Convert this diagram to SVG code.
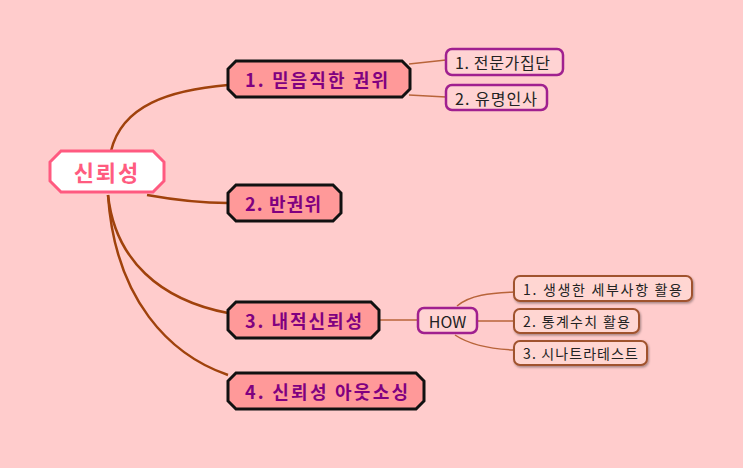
<svg xmlns="http://www.w3.org/2000/svg" width="743" height="468" viewBox="0 0 743 468">
<defs>
<style>
.main{fill:#ff9999;stroke:#111;stroke-width:3;stroke-linejoin:miter}
.mt{font-family:"Noto Sans CJK KR","Noto Sans",sans-serif;font-size:18px;font-weight:bold;fill:#800080;dominant-baseline:central}
.leafA{fill:#ffd3d3;stroke:#a0208f;stroke-width:2.5}
.leafB{fill:#ffd6d2;stroke:#a0522d;stroke-width:2}
.lt{font-family:"Noto Sans CJK KR","Noto Sans",sans-serif;font-size:16px;fill:#222;dominant-baseline:central}
.st{font-family:"Noto Sans CJK KR","Noto Sans",sans-serif;font-size:14px;fill:#222;dominant-baseline:central}
.e{fill:none;stroke:#a0420c;stroke-width:2.5}
.e2{fill:none;stroke:#b8643a;stroke-width:1.5}
</style>
<filter id="sh" x="-10%" y="-20%" width="130%" height="160%">
<feDropShadow dx="1" dy="1.5" stdDeviation="1" flood-color="#000" flood-opacity="0.35"/>
</filter>
</defs>
<rect width="743" height="468" fill="#ffcccc"/>
<g id="connectors">
<path class="e" d="M111,151 C122,105 170,90 228,85"/>
<path class="e" d="M147,195 C175,200 200,203 228,203"/>
<path class="e" d="M108,195 C115,260 160,300 228,313"/>
<path class="e" d="M108,195 C115,300 170,355 228,375"/>
<path class="e2" d="M409,64 L446,60"/>
<path class="e2" d="M409,95 L446,97"/>
<path class="e2" d="M379,320 L418,320"/>
<path class="e2" d="M457,306 C470,295 490,293 514,292"/>
<path class="e2" d="M477,321 L514,321"/>
<path class="e2" d="M455,335 C470,345 490,349 514,350"/>
</g>
<g id="root">
<polygon points="61,151 153,151 164,162 164,181 153,192 61,192 50,181 50,162" fill="#fff" stroke="#ff5a80" stroke-width="3"/>
<text x="107" y="171" text-anchor="middle" font-family="'Noto Sans CJK KR','Noto Sans',sans-serif" font-size="22" font-weight="bold" fill="#ff5c80" dominant-baseline="central" letter-spacing="2">신뢰성</text>
</g>
<g id="n1">
<polygon class="main" points="236,61 402,61 410,69 410,89 402,97 236,97 228,89 228,69"/>
<text class="mt" x="245" y="79" textLength="143" lengthAdjust="spacing">1. 믿음직한 권위</text>
</g>
<g id="n2">
<polygon class="main" points="236,185 333,185 341,193 341,213 333,221 236,221 228,213 228,193"/>
<text class="mt" x="245" y="203" textLength="76" lengthAdjust="spacing">2. 반권위</text>
</g>
<g id="n3">
<polygon class="main" points="236,302 371,302 379,310 379,330 371,338 236,338 228,330 228,310"/>
<text class="mt" x="245" y="320" textLength="117" lengthAdjust="spacing">3. 내적신뢰성</text>
</g>
<g id="n4">
<polygon class="main" points="236,373 416,373 424,381 424,401 416,409 236,409 228,401 228,381"/>
<text class="mt" x="245" y="391" textLength="163" lengthAdjust="spacing">4. 신뢰성 아웃소싱</text>
</g>
<g id="l1">
<rect class="leafA" x="446" y="49" width="117" height="26" rx="6"/>
<text class="lt" x="455" y="62" textLength="95" lengthAdjust="spacing">1. 전문가집단</text>
</g>
<g id="l2">
<rect class="leafA" x="446" y="85" width="101" height="25" rx="6"/>
<text class="lt" x="455" y="97.5" textLength="82" lengthAdjust="spacing">2. 유명인사</text>
</g>
<g id="how">
<rect class="leafA" x="418" y="308" width="59" height="25" rx="6"/>
<text class="lt" x="447.5" y="320.5" text-anchor="middle">HOW</text>
</g>
<g id="h1">
<rect class="leafB" filter="url(#sh)" x="514" y="276" width="178" height="25" rx="6"/>
<text class="st" x="523" y="288.5" textLength="159" lengthAdjust="spacing">1. 생생한 세부사항 활용</text>
</g>
<g id="h2">
<rect class="leafB" filter="url(#sh)" x="514" y="309" width="125" height="24" rx="6"/>
<text class="st" x="523" y="321" textLength="107" lengthAdjust="spacing">2. 통계수치 활용</text>
</g>
<g id="h3">
<rect class="leafB" filter="url(#sh)" x="514" y="341" width="133" height="24" rx="6"/>
<text class="st" x="523" y="353" textLength="115" lengthAdjust="spacing">3. 시나트라테스트</text>
</g>
</svg>
